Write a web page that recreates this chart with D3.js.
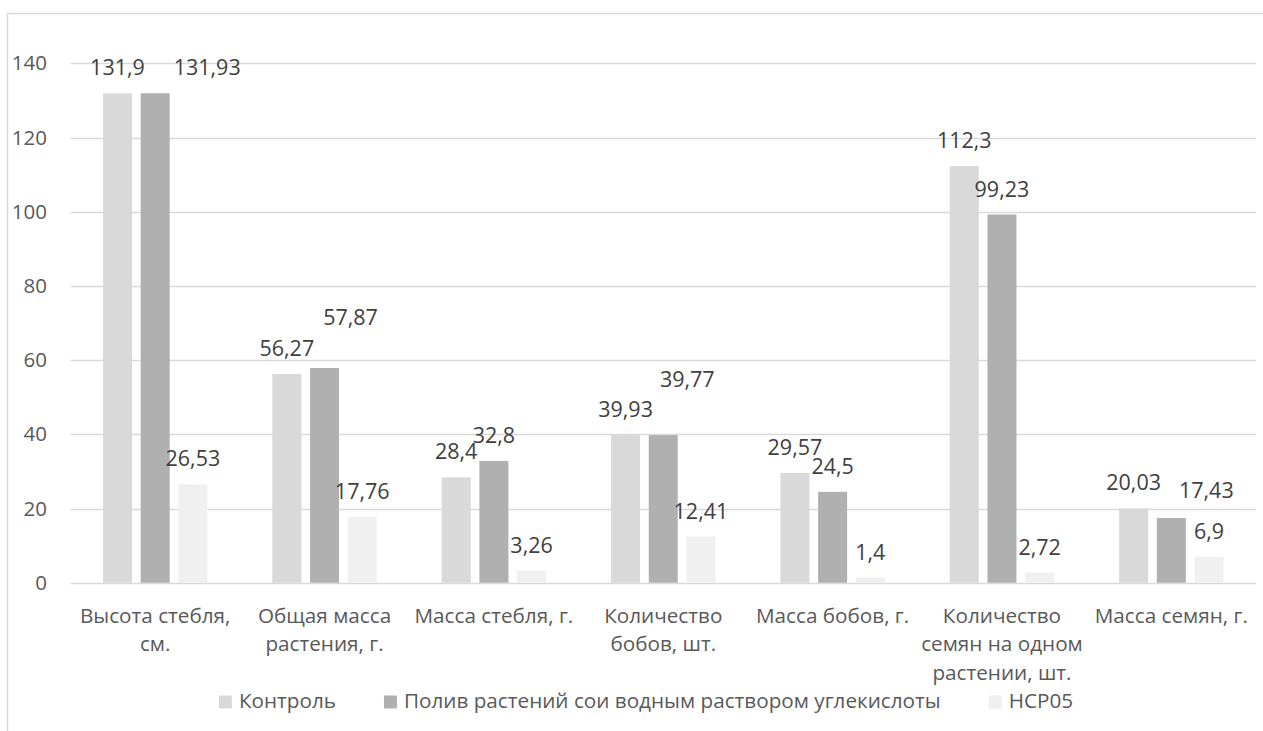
<!DOCTYPE html>
<html lang="ru">
<head>
<meta charset="utf-8">
<script src="https://cdn.jsdelivr.net/npm/d3@7"></script>
<style>
  html, body { margin: 0; padding: 0; background: #ffffff; }
  svg { display: block; }
  text { font-family: "Open Sans", "Noto Sans", sans-serif; }
</style>
</head>
<body>
<svg id="chart" width="1263" height="731"></svg>
<script>
// Categories (line breaks mark how each axis label wraps)
const categories = [
  "Высота стебля,\nсм.",
  "Общая масса\nрастения, г.",
  "Масса стебля, г.",
  "Количество\nбобов, шт.",
  "Масса бобов, г.",
  "Количество\nсемян на одном\nрастении, шт.",
  "Масса семян, г."
];

const seriesNames = [
  "Контроль",
  "Полив растений сои водным раствором углекислоты",
  "НСР05"
];

const control   = [131.9, 56.27, 28.4, 39.93, 29.57, 112.3, 20.03];
const treatment = [131.93, 57.87, 32.8, 39.77, 24.5, 99.23, 17.43];
const hcp05     = [26.53, 17.76, 3.26, 12.41, 1.4, 2.72, 6.9];

const yTicks = [0, 20, 40, 60, 80, 100, 120, 140];

// Manually moved data labels: [series index, category index, dx, dy]
const labelNudge = [
  [1, 0, 52, 0],
  [1, 1, 26, -25],
  [1, 3, 24, -30],
  [1, 6, 35, -2]
];

const seriesValues = [control, treatment, hcp05];
const colors = ["#d9d9d9", "#b0b0b0", "#f0f0f0"];

const svg = d3.select("#chart");
const W = 1263, H = 731;

// chart frame
svg.append("rect")
  .attr("x", 7.5).attr("y", 13.5)
  .attr("width", W + 20).attr("height", H + 20)
  .attr("fill", "#ffffff")
  .attr("stroke", "#d9d9d9")
  .attr("stroke-width", 1.5);

const plot = { left: 70.5, right: 1256, top: 63.3, bottom: 582.7 };

const y = d3.scaleLinear().domain([0, 140]).range([plot.bottom, plot.top]);

const x0 = d3.scaleBand()
  .domain(d3.range(categories.length))
  .range([plot.left, plot.right])
  .padding(0);

const x1 = d3.scaleBand()
  .domain(d3.range(seriesNames.length))
  .range([0, x0.bandwidth()])
  .paddingInner(0.23)
  .paddingOuter(0.862);

// gridlines
svg.append("g")
  .selectAll("line")
  .data(yTicks)
  .join("line")
  .attr("x1", plot.left).attr("x2", plot.right)
  .attr("y1", d => Math.round(y(d)) + 0.5)
  .attr("y2", d => Math.round(y(d)) + 0.5)
  .attr("stroke", "#d9d9d9")
  .attr("stroke-width", 1.5);

// y tick labels
svg.append("g")
  .selectAll("text")
  .data(yTicks)
  .join("text")
  .attr("x", 47)
  .attr("y", d => y(d))
  .attr("dy", "0.35em")
  .attr("text-anchor", "end")
  .attr("font-size", 20.5)
  .attr("fill", "#595959")
  .text(d => d);

// bars
const bars = [];
seriesValues.forEach((vals, s) => {
  vals.forEach((v, c) => bars.push({ s, c, v }));
});

svg.append("g")
  .selectAll("rect")
  .data(bars)
  .join("rect")
  .attr("x", d => x0(d.c) + x1(d.s))
  .attr("width", x1.bandwidth())
  .attr("y", d => y(d.v))
  .attr("height", d => y(0) - y(d.v))
  .attr("fill", d => colors[d.s]);

// data labels
const fmt = v => String(v).replace(".", ",");
const nudge = (s, c) => {
  const n = labelNudge.find(e => e[0] === s && e[1] === c);
  return n ? [n[2], n[3]] : [0, 0];
};

svg.append("g")
  .selectAll("text")
  .data(bars)
  .join("text")
  .attr("x", d => x0(d.c) + x1(d.s) + x1.bandwidth() / 2 + nudge(d.s, d.c)[0])
  .attr("y", d => y(d.v) - 18 + nudge(d.s, d.c)[1])
  .attr("text-anchor", "middle")
  .attr("font-size", 21.5)
  .attr("fill", "#404040")
  .text(d => fmt(d.v));

// category axis labels
const catG = svg.append("g");
categories.forEach((cat, c) => {
  const t = catG.append("text")
    .attr("x", x0(c) + x0.bandwidth() / 2)
    .attr("y", 623)
    .attr("text-anchor", "middle")
    .attr("font-size", 20.7)
    .attr("fill", "#595959");
  cat.split("\n").forEach((line, i) => {
    t.append("tspan")
      .attr("x", x0(c) + x0.bandwidth() / 2)
      .attr("dy", i === 0 ? 0 : 28.3)
      .text(line);
  });
});

// legend
const legend = svg.append("g");
const items = seriesNames.map((name, i) => {
  const g = legend.append("g");
  g.append("rect")
    .attr("x", 0).attr("y", -12.5)
    .attr("width", 13).attr("height", 13)
    .attr("fill", colors[i]);
  const t = g.append("text")
    .attr("x", 20).attr("y", 0)
    .attr("font-size", 20.7)
    .attr("fill", "#595959")
    .text(name);
  return { g, w: 20 + t.node().getComputedTextLength() };
});
const gap = 48;
const total = d3.sum(items, d => d.w) + gap * (items.length - 1);
let lx = 646 - total / 2;
items.forEach(it => {
  it.g.attr("transform", `translate(${lx},708)`);
  lx += it.w + gap;
});
</script>
</body>
</html>
